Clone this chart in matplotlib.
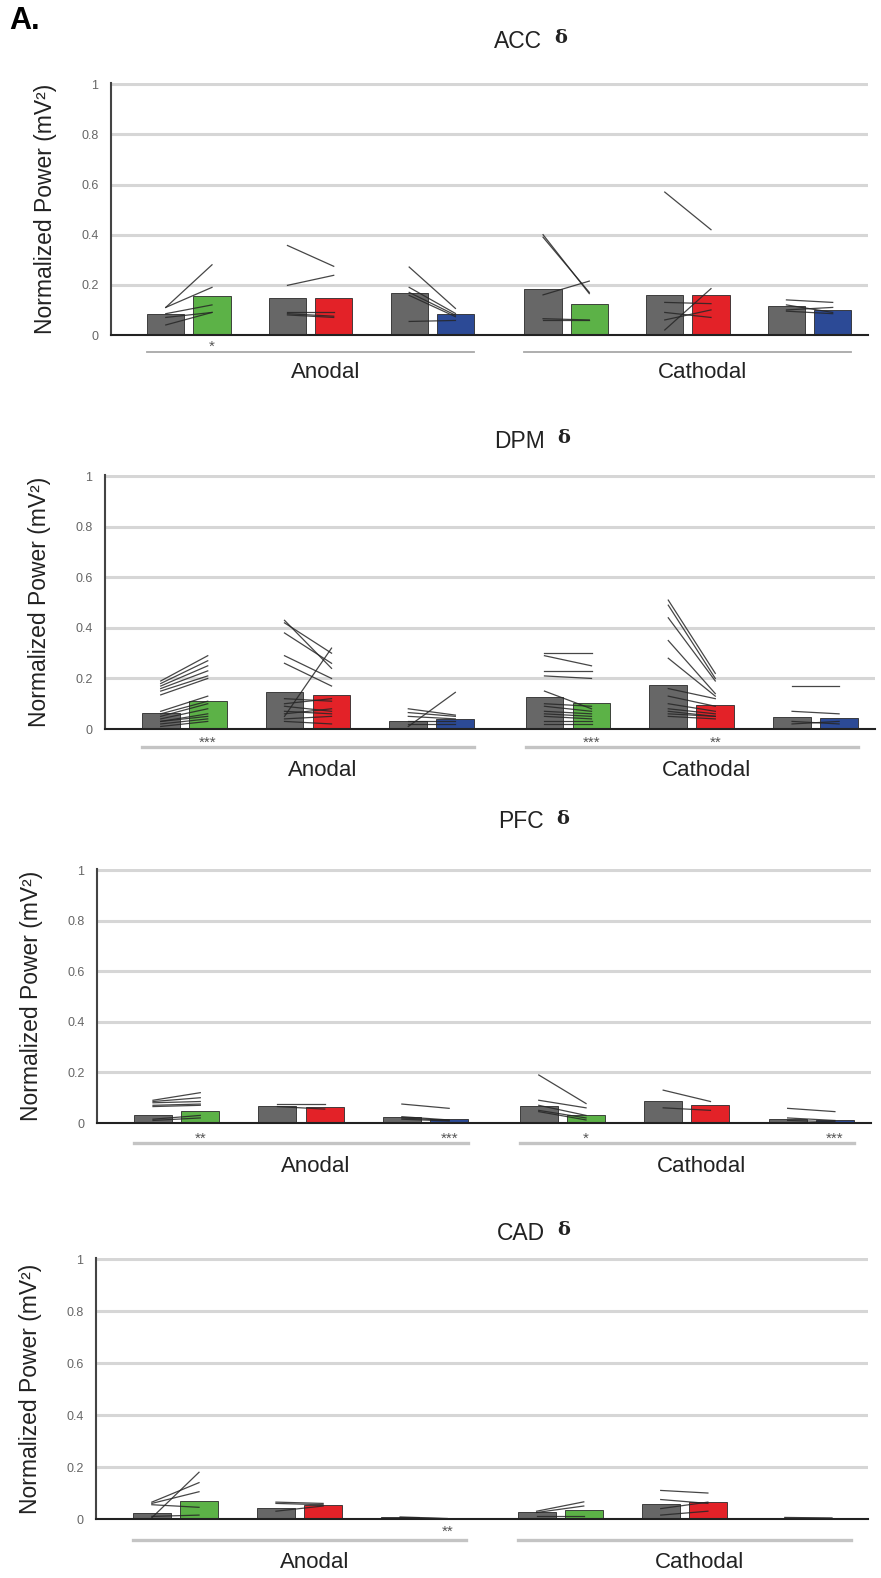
import numpy as np
import matplotlib
matplotlib.use('Agg')
import matplotlib.pyplot as plt

plt.rcParams['font.family'] = ['Liberation Sans', 'DejaVu Sans']

# ---- data ----
regions = ['ACC', 'DPM', 'PFC', 'CAD']
groups = ['Anodal', 'Cathodal']
y_ticks = [0, 0.2, 0.4, 0.6, 0.8, 1]
y_tick_labels = ['0', '0.2', '0.4', '0.6', '0.8', '1']

# bar means: gray (baseline) and coloured (stimulation), pairs
# anodal green/red/blue, cathodal green/red/blue
acc_base = [0.082, 0.148, 0.168, 0.185, 0.159, 0.115]
acc_stim = [0.155, 0.146, 0.082, 0.122, 0.161, 0.099]
dpm_base = [0.064, 0.146, 0.033, 0.127, 0.176, 0.048]
dpm_stim = [0.111, 0.135, 0.041, 0.101, 0.094, 0.042]
pfc_base = [0.033, 0.068, 0.025, 0.067, 0.087, 0.017]
pfc_stim = [0.049, 0.062, 0.016, 0.031, 0.071, 0.012]
cad_base = [0.024, 0.043, 0.006, 0.026, 0.057, 0.004]
cad_stim = [0.070, 0.054, 0.002, 0.033, 0.066, 0.002]

# individual animals (pre -> post) for each pair
acc_pre = [[0.11, 0.11, 0.085, 0.07, 0.04],
           [0.357, 0.198, 0.09, 0.085, 0.08],
           [0.271, 0.19, 0.17, 0.158, 0.054],
           [0.40, 0.39, 0.16, 0.06, 0.065],
           [0.57, 0.02, 0.13, 0.09, 0.06],
           [0.14, 0.12, 0.10, 0.095]]
acc_post = [[0.28, 0.19, 0.12, 0.09, 0.09],
            [0.274, 0.238, 0.09, 0.075, 0.07],
            [0.106, 0.086, 0.079, 0.073, 0.058],
            [0.165, 0.17, 0.215, 0.06, 0.06],
            [0.42, 0.185, 0.125, 0.07, 0.10],
            [0.13, 0.09, 0.11, 0.085]]
dpm_pre = [[0.19, 0.18, 0.17, 0.16, 0.15, 0.135, 0.07, 0.06, 0.05, 0.04, 0.03, 0.03, 0.02, 0.01],
           [0.43, 0.42, 0.38, 0.29, 0.26, 0.05, 0.12, 0.10, 0.09, 0.07, 0.06, 0.04, 0.03],
           [0.01, 0.08, 0.065, 0.05, 0.03, 0.02],
           [0.30, 0.29, 0.23, 0.21, 0.15, 0.10, 0.09, 0.07, 0.06, 0.05, 0.03, 0.02],
           [0.51, 0.49, 0.44, 0.35, 0.28, 0.16, 0.13, 0.10, 0.08, 0.07, 0.06, 0.05],
           [0.17, 0.07, 0.03, 0.02]]
dpm_post = [[0.29, 0.27, 0.25, 0.23, 0.21, 0.20, 0.13, 0.11, 0.10, 0.08, 0.06, 0.05, 0.04, 0.03],
            [0.24, 0.30, 0.26, 0.20, 0.17, 0.32, 0.11, 0.12, 0.07, 0.06, 0.08, 0.05, 0.02],
            [0.145, 0.055, 0.05, 0.04, 0.03, 0.02],
            [0.30, 0.25, 0.23, 0.20, 0.08, 0.09, 0.07, 0.06, 0.05, 0.04, 0.03, 0.02],
            [0.22, 0.20, 0.19, 0.14, 0.13, 0.12, 0.09, 0.07, 0.06, 0.05, 0.05, 0.04],
            [0.17, 0.06, 0.02, 0.03]]
pfc_pre = [[0.09, 0.085, 0.08, 0.07, 0.065, 0.015, 0.01],
           [0.075, 0.065],
           [0.075, 0.025, 0.02, 0.015],
           [0.19, 0.09, 0.07, 0.05, 0.045],
           [0.13, 0.06],
           [0.058, 0.02, 0.01]]
pfc_post = [[0.12, 0.10, 0.085, 0.075, 0.07, 0.03, 0.02],
            [0.075, 0.055],
            [0.058, 0.012, 0.01, 0.008],
            [0.077, 0.06, 0.03, 0.02, 0.012],
            [0.085, 0.05],
            [0.045, 0.01, 0.005]]
cad_pre = [[0.005, 0.065, 0.06, 0.055, 0.01],
           [0.065, 0.06, 0.03],
           [0.008, 0.005],
           [0.03, 0.025, 0.01],
           [0.11, 0.075, 0.04, 0.015],
           [0.006, 0.003]]
cad_post = [[0.18, 0.14, 0.105, 0.045, 0.015],
            [0.06, 0.055, 0.05],
            [0.002, 0.001],
            [0.066, 0.05, 0.01],
            [0.10, 0.06, 0.065, 0.03],
            [0.004, 0.002]]

acc_stars = ['*', '', '', '', '', '']
dpm_stars = ['***', '', '', '***', '**', '']
pfc_stars = ['**', '', '***', '*', '', '***']
cad_stars = ['', '', '**', '', '', '']

base = {'ACC': acc_base, 'DPM': dpm_base, 'PFC': pfc_base, 'CAD': cad_base}
stim = {'ACC': acc_stim, 'DPM': dpm_stim, 'PFC': pfc_stim, 'CAD': cad_stim}
pre = {'ACC': acc_pre, 'DPM': dpm_pre, 'PFC': pfc_pre, 'CAD': cad_pre}
post = {'ACC': acc_post, 'DPM': dpm_post, 'PFC': pfc_post, 'CAD': cad_post}
stars = {'ACC': acc_stars, 'DPM': dpm_stars, 'PFC': pfc_stars, 'CAD': cad_stars}

# ---- layout (pixels in the 881 x 1578 figure) ----
W, H = 881, 1578
# left, right, top (y=1), bottom (y=0)
boxes = {'ACC': (111, 868, 83, 335), 'DPM': (105, 875, 475, 729),
         'PFC': (97, 871, 869, 1123), 'CAD': (96, 868, 1258, 1519)}
# right edge of the region name, vertical centre
title_pos = {'ACC': (542, 41), 'DPM': (545, 441), 'PFC': (544, 822), 'CAD': (545, 1233)}
star_off = {'ACC': 12, 'DPM': 14, 'PFC': 16, 'CAD': 13}
gline_off = {'ACC': 17, 'DPM': 18, 'PFC': 20, 'CAD': 21}
glabel_off = {'ACC': 37, 'DPM': 41, 'PFC': 44, 'CAD': 44}

pair_x = np.array([0, 1, 2, 3.1, 4.1, 5.1])
bw = 0.305
dx = 0.19
stim_colors = ['#5cb247', '#e32228', '#2c4a96'] * 2

fig = plt.figure(figsize=(W / 100, H / 100), dpi=100)
fig.text(9 / W, 1 - 21 / H, 'A.', fontsize=22, fontweight='bold', va='center')

for reg in regions:
    l, r, t, b = boxes[reg]
    ax = fig.add_axes([l / W, 1 - b / H, (r - l) / W, (b - t) / H])
    ax.set_xlim(-0.64, 5.58)
    ax.set_ylim(0, 1.005)
    hpx = b - t

    for y in y_ticks[1:]:
        ax.axhline(y, color='#d6d6d6', lw=2.2, zorder=0)

    ax.bar(pair_x - dx, base[reg], bw, color='#676767', edgecolor='#2a2a2a',
           linewidth=0.6, zorder=2)
    ax.bar(pair_x + dx, stim[reg], bw, color=stim_colors, edgecolor='#2a2a2a',
           linewidth=0.6, zorder=2)
    for i, x in enumerate(pair_x):
        for a, c in zip(pre[reg][i], post[reg][i]):
            ax.plot([x - dx, x + dx], [a, c], color='#262626', lw=0.9,
                    alpha=0.85, zorder=3)

    trans = ax.get_xaxis_transform()
    for i, s in enumerate(stars[reg]):
        if s:
            ax.text(pair_x[i] + dx, -star_off[reg] / hpx, s, transform=trans,
                    ha='center', va='center', fontsize=11, color='#555555')
    for g, idx in zip(groups, [(0, 2), (3, 5)]):
        x0 = pair_x[idx[0]] - dx - bw / 2
        x1 = pair_x[idx[1]] + dx + bw / 2
        ax.plot([x0, x1], [-gline_off[reg] / hpx] * 2, transform=trans,
                color='#c4c4c4' if reg != 'ACC' else '#a8a8a8',
                lw=2.4 if reg != 'ACC' else 1.3, clip_on=False)
        ax.text(pair_x[idx[0] + 1] + 0.12, -glabel_off[reg] / hpx, g,
                transform=trans, ha='center', va='center', fontsize=16,
                color='#222222')

    ax.set_yticks(y_ticks, y_tick_labels)
    ax.set_xticks([])
    ax.tick_params(axis='y', length=0, pad=9, labelsize=9, labelcolor='#666666')
    for side in ['top', 'right']:
        ax.spines[side].set_visible(False)
    ax.spines['left'].set_color('#444444')
    ax.spines['left'].set_linewidth(1.5)
    ax.spines['bottom'].set_color('#222222')
    ax.spines['bottom'].set_linewidth(1.5)
    ax.set_ylabel('Normalized Power (mV²)', fontsize=16.5, color='#222222')
    ax.yaxis.set_label_coords(-54 / (r - l), 0.5)

    tx, ty = title_pos[reg]
    fig.text(tx / W, 1 - ty / H, reg, ha='right', va='center', fontsize=16.5,
             color='#222222')
    fig.text((tx + 12) / W, 1 - (ty - 3) / H, 'δ', ha='left', va='center',
             fontsize=14, fontweight='bold', family='DejaVu Serif',
             color='#222222')

fig.savefig('out.png', dpi=100)
